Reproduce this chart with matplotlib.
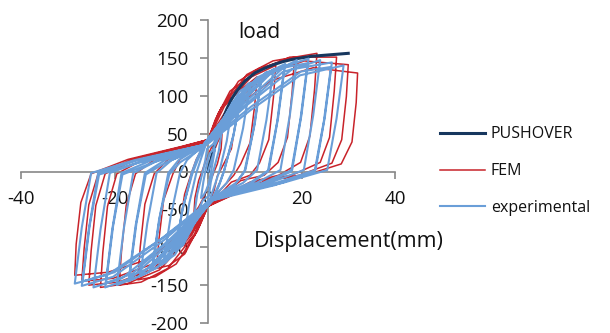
import numpy as np
import matplotlib.pyplot as plt

plt.rcParams['font.family'] = ['Open Sans', 'DejaVu Sans']
plt.rcParams['axes.unicode_minus'] = False

# pushover curve (mm, kN)
push_x = [0, 1, 2, 3, 4, 5, 6, 7, 8, 10, 12, 14, 16, 18, 20, 22, 24, 26, 28, 30]
push_y = [0, 25, 48, 66, 82, 95, 105, 113, 120, 130, 136, 141, 145, 148, 150, 152, 153, 154, 155, 156]

# FEM hysteresis, one list per cycle
fem_cycles = [
    [(0, 0), (1, 22), (2, 38), (3, 50), (2.8, 30), (2, 10), (1, -5), (0, -20), (-1, -35), (-2, -47),
     (-3, -55), (-2.8, -35), (-2, -12), (-1, 5), (0, 22), (1, 35), (2, 45)],
    [(6.5, 100), (6, 70), (5, 30), (3.2, 8), (2, -6), (1.3, -25), (0, -46), (-1, -55), (-2.9, -85),
     (-4.9, -97), (-6.5, -100), (-6, -70), (-5, -30), (-3.6, -3), (-2.5, 16), (-1, 33), (0, 42),
     (1, 55), (2.9, 85), (4.9, 97)],
    [(10.5, 125), (10, 88), (9, 38), (7, 10), (5.5, -5), (2.1, -28), (0, -46), (-1.7, -70),
     (-5, -109), (-8.3, -124), (-11, -128), (-10.5, -90), (-9.5, -38), (-7.5, -3), (-6, 16), (-2.2, 33),
     (0, 42), (1.6, 69), (4.7, 106), (7.9, 121)],
    [(14.5, 140), (14, 98), (13, 42), (11, 11), (9, -5), (5, -14), (2.9, -28), (0, -46),
     (-2.3, -79), (-6.8, -122), (-11.3, -139), (-15, -143), (-14.5, -100), (-13.5, -43), (-11.5, -3),
     (-8.5, 16), (-3, 33), (0, 42), (2.2, 77), (6.5, 119), (10.9, 136)],
    [(18.5, 150), (18, 105), (17, 45), (15, 12), (12, -5), (7, -12), (3.7, -28), (0, -46),
     (-2.9, -83), (-8.6, -128), (-14.3, -146), (-19, -150), (-18.5, -105), (-17.5, -45), (-15.5, -3),
     (-11.4, 16), (-3.8, 33), (0, 42), (2.8, 83), (8.3, 128), (13.9, 146)],
    [(23.3, 156), (22.8, 109), (21.8, 47), (19.8, 12), (15.1, -5), (9, -14), (4.7, -28), (0, -46),
     (-3.5, -84), (-10.4, -130), (-17.3, -148), (-23, -153), (-22.5, -107), (-21.5, -46), (-19.5, -3),
     (-13.8, 16), (-4.6, 33), (0, 42), (3.5, 86), (10.5, 133), (17.5, 151)],
    [(27.5, 151), (27, 106), (26, 45), (24, 12), (17.9, -5), (11, -12), (5.5, -28), (0, -46),
     (-3.8, -83), (-11.5, -128), (-19.1, -146), (-25.5, -150), (-25, -105), (-24, -45),
     (-22, -3), (-15.3, 16), (-5.1, 33), (0, 42), (4.1, 83), (12.4, 128), (20.6, 146)],
    [(30, 141), (29.6, 99), (28.6, 42), (26.5, 11), (19.5, -5), (12, -13), (6, -28), (0, -46), (-4, -80),
     (-12.2, -123), (-20.3, -141), (-27, -145), (-26.5, -102), (-25.5, -44), (-23.5, -3), (-16.2, 16),
     (-5.4, 33), (0, 42), (4.5, 78), (13.5, 120), (22.5, 137)],
    [(32, 130), (31.7, 91), (30.8, 39), (28.5, 10), (20.8, -5), (13, -11), (6.4, -28), (0, -46),
     (-4.3, -75), (-12.8, -116), (-21.4, -133), (-28.5, -137), (-28.2, -96), (-27.2, -41),
     (-25, -3), (-17.1, 16), (-5.7, 33), (0, 42)],
]

# experimental hysteresis, one list per cycle (two cycles at several amplitudes)
exp_cycles = [
    [(0, 0), (1.5, 30), (1.0, 12), (0.5, -5), (0.2, -15), (-0.4, -25), (-1.0, -32), (-1.5, -35),
     (-1.0, -14), (-0.5, 3), (-0.1, 14), (0.4, 24), (1.0, 28)],
    [(3, 55), (2.3, 27), (1.2, 2), (0.6, -14), (0.2, -32), (-1.1, -38), (-2.3, -55), (-3, -60),
     (-2.3, -30), (-1.2, -2), (-0.6, 14), (-0.2, 30), (1.1, 36), (2.3, 50)],
    [(5, 80), (4, 40), (2.5, 2), (1.6, -15), (0.5, -35), (-1.8, -51), (-3.8, -78), (-5, -85),
     (-4, -42), (-2.5, -2), (-1.6, 15), (-0.5, 35), (1.8, 48), (3.8, 74)],
    [(7, 100), (5.5, 50), (3.5, 2), (2.5, -15), (1, -35), (-2.5, -63), (-5.3, -97), (-7, -105),
     (-5.5, -52), (-3.5, -2), (-2.5, 15), (-1, 35), (2.5, 60), (5.3, 92)],
    [(6.9, 95), (5.4, 46), (3.4, 0), (2.4, -18), (1, -38), (-2.4, -60), (-5.2, -92), (-6.9, -100),
     (-5.4, -48), (-3.4, -4), (-2.4, 12), (-1, 32), (2.4, 56), (5.2, 88)],
    [(9, 115), (7.5, 57), (5.5, 2), (4, -15), (1, -35), (-3.3, -72), (-7.1, -110), (-9.5, -120),
     (-8, -60), (-6, -2), (-4.5, 15), (-1, 35), (3.2, 69), (6.8, 106)],
    [(11.5, 126), (10, 63), (8, 2), (6, -15), (1, -35), (-4.2, -78), (-9, -120), (-12, -130),
     (-10.5, -65), (-8.5, -2), (-6.3, 15), (-1, 35), (4, 76), (8.6, 116)],
    [(11.3, 120), (9.8, 58), (7.8, 0), (5.7, -18), (1, -38), (-4, -74), (-8.8, -114), (-11.8, -124),
     (-10.3, -60), (-8.3, -4), (-6, 12), (-1, 32), (4, 70), (8.4, 110)],
    [(14, 135), (12.5, 68), (10.5, 2), (7.5, -15), (1, -35), (-5.1, -83), (-10.9, -127), (-14.5, -138),
     (-13, -69), (-11, -2), (-7.8, 15), (-1, 35), (4.9, 81), (10.5, 124)],
    [(16.5, 142), (15, 71), (13, 2), (9, -15), (1, -35), (-6, -87), (-12.8, -133), (-17, -145),
     (-15.5, -72), (-13.5, -2), (-9.2, 15), (-1, 35), (5.8, 85), (12.4, 131)],
    [(16.3, 136), (14.8, 66), (12.8, 0), (8.7, -18), (1, -38), (-5.8, -82), (-12.5, -127), (-16.8, -139),
     (-15.3, -68), (-13.3, -4), (-9, 12), (-1, 32), (5.6, 80), (12.2, 125)],
    [(19, 147), (17.5, 74), (15.5, 2), (10.4, -15), (1, -35), (-6.8, -90), (-14.6, -138), (-19.5, -150),
     (-18, -75), (-16, -2), (-10.6, 15), (-1, 35), (6.7, 88), (14.3, 135)],
    [(21.5, 149), (20, 75), (18, 2), (11.7, -15), (1, -35), (-7.7, -92), (-16.5, -141), (-22, -153),
     (-20.5, -77), (-18.5, -2), (-12, 15), (-1, 35), (7.5, 89), (16.1, 137)],
    [(21.3, 143), (19.8, 70), (17.8, 0), (11.4, -18), (1, -38), (-7.5, -87), (-16.2, -135), (-21.8, -147),
     (-20.3, -72), (-18.3, -4), (-11.7, 12), (-1, 32), (7.3, 84), (15.9, 131)],
    [(24, 147), (22.5, 74), (20.5, 2), (13.2, -15), (1, -35), (-8.6, -92), (-18.4, -141), (-24.5, -153),
     (-23, -77), (-21, -2), (-13.5, 15), (-1, 35), (8.4, 88), (18, 135)],
    [(26.5, 144), (25, 72), (23, 2), (14.6, -15), (1, -35), (-9.5, -91), (-20.3, -139), (-27, -151),
     (-25.5, -76), (-23.5, -2), (-14.9, 15), (-1, 35), (9.3, 86), (19.9, 132)],
    [(26.3, 138), (24.8, 67), (22.8, 0), (14.3, -18), (1, -38), (-9.3, -86), (-20, -133), (-26.8, -145),
     (-25.3, -71), (-23.3, -4), (-14.6, 12), (-1, 32), (9.1, 81), (19.7, 127)],
    [(29, 140), (27.5, 70), (25.5, 2), (16, -15), (1, -35), (-10, -89), (-21.4, -136), (-28.5, -148),
     (-27, -74), (-25, -2), (-15.7, 15), (-1, 35)],
]

fem = np.array([p for c in fem_cycles for p in c])
exp = np.array([p for c in exp_cycles for p in c])

fig = plt.figure(figsize=(6.1, 3.33), dpi=100)
ax = fig.add_axes([21 / 610, 10 / 333, 374 / 610, 303 / 333])

l2, = ax.plot(fem[:, 0], fem[:, 1], color='#C8232A', lw=1.1, zorder=2, label='FEM')
l1, = ax.plot(push_x, push_y, color='#17375E', lw=2.2, zorder=3, label='PUSHOVER')
l3, = ax.plot(exp[:, 0], exp[:, 1], color='#6A9ED8', lw=1.5, zorder=4, label='experimental')

ax.set_xlim(-40, 40)
ax.set_ylim(-200, 200)
ax.set_xticks([-40, -20, 0, 20, 40])
ax.set_yticks(np.arange(-200, 201, 50))

for s in ['top', 'right']:
    ax.spines[s].set_visible(False)
for s in ['left', 'bottom']:
    ax.spines[s].set_position(('data', 0))
    ax.spines[s].set_color('#888888')
    ax.spines[s].set_linewidth(1.2)
ax.tick_params(axis='both', direction='out', width=1.2, color='#888888',
               labelsize=13.5, labelcolor='#111111')
ax.tick_params(axis='x', length=5, pad=8)
ax.tick_params(axis='y', length=6, pad=8)
ax.patch.set_visible(False)

fig.text(259 / 610, 1 - 33 / 333, 'load', fontsize=15, ha='center', va='center', color='#111111')
fig.text(349 / 610, 1 - 242 / 333, 'Displacement(mm)', fontsize=15.5, ha='center', va='center',
         color='#111111')

leg = fig.legend(handles=[l1, l2, l3], loc='upper left', bbox_to_anchor=(434 / 610, 1 - 120 / 333),
                 frameon=False, fontsize=11.5, handlelength=2.8, handletextpad=0.35,
                 labelspacing=1.3, borderaxespad=0)
for t in leg.get_texts():
    t.set_color('#111111')

fig.savefig('out.png', dpi=100)
